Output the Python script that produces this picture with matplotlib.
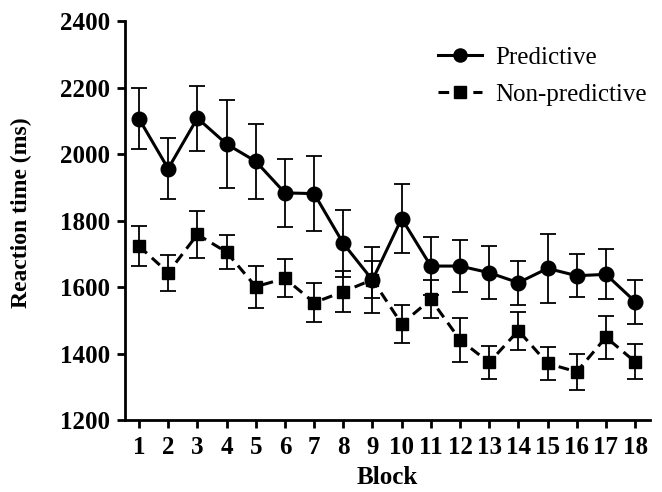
import matplotlib.pyplot as plt

plt.rcParams["font.family"] = ["Liberation Serif", "DejaVu Serif"]

blocks = list(range(1, 19))
predictive = [2106, 1956, 2108, 2030, 1978, 1883, 1881, 1731, 1621, 1806,
              1663, 1663, 1643, 1613, 1656, 1634, 1638, 1556]
predictive_err = [92, 92, 98, 131, 112, 102, 113, 100, 100, 104,
                  88, 78, 79, 66, 103, 65, 75, 66]
nonpredictive = [1723, 1643, 1758, 1705, 1601, 1626, 1553, 1586, 1622, 1489,
                 1563, 1441, 1373, 1469, 1370, 1345, 1449, 1375]
nonpredictive_err = [61, 54, 70, 50, 63, 57, 58, 61, 56, 58,
                     57, 67, 50, 57, 51, 54, 64, 53]

fig = plt.figure(figsize=(6.62, 4.92), dpi=100)
ax = fig.add_axes([0.1888, 0.1463, 0.7931, 0.8110])

ax.errorbar(blocks, predictive, yerr=predictive_err, fmt="-o", color="black",
            lw=2.2, ms=10.5, elinewidth=1.3, capsize=5.5, capthick=1.3,
            label="Predictive", zorder=3)
ax.errorbar(blocks, nonpredictive, yerr=nonpredictive_err, fmt="--s", color="black",
            lw=2.2, ms=8.8, elinewidth=1.3, capsize=5.5, capthick=1.3,
            dashes=(3.5, 2.2), label="Non-predictive", zorder=2)

ax.set_xlim(0.52, 18.51)
ax.set_ylim(1200, 2400)
ax.set_yticks(range(1200, 2401, 200))
ax.set_xticks(blocks)

for side in ["top", "right"]:
    ax.spines[side].set_visible(False)
for side in ["left", "bottom"]:
    ax.spines[side].set_linewidth(2.0)

ax.tick_params(direction="out", length=6, width=2.0, labelsize=18)
ax.tick_params(axis="y", pad=5)
ax.tick_params(axis="x", pad=5.5)
for lab in ax.get_xticklabels() + ax.get_yticklabels():
    lab.set_fontweight("bold")

ax.set_xlabel("Block", fontsize=18, fontweight="bold", va="center")
ax.set_ylabel("Reaction time (ms)", fontsize=17, fontweight="bold", va="center")
ax.xaxis.set_label_coords(0.499, -0.143)
ax.yaxis.set_label_coords(-0.197, 0.519)

handles, labels = ax.get_legend_handles_labels()
handles = [h[0] for h in handles]
ax.legend(handles, labels, loc="upper left", bbox_to_anchor=(0.596, 0.937),
          frameon=False, fontsize=18, handlelength=1.75, handletextpad=0.56,
          labelspacing=0.58, borderpad=0, borderaxespad=0, markerscale=0.9)

fig.savefig("out.png", dpi=100)
